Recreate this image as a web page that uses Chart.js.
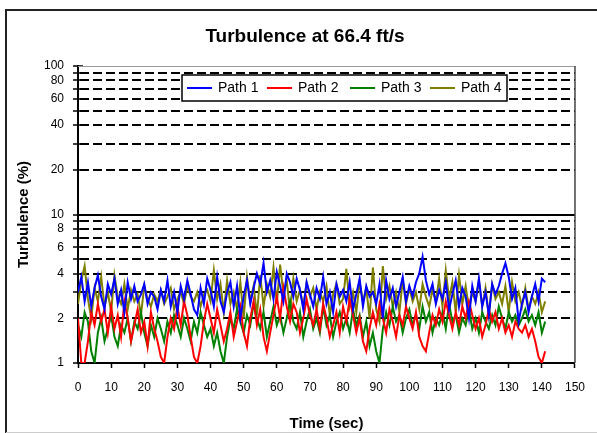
<!DOCTYPE html>
<html>
<head>
<meta charset="utf-8">
<script src="https://cdn.jsdelivr.net/npm/chart.js@4/dist/chart.umd.min.js"></script>
<style>
  body { margin: 0; background: #fff; }
  canvas { display: block; }
</style>
</head>
<body>
<canvas id="turb_chart" width="597" height="433"></canvas>
<script>
// time axis (sec)
const times = [
  0, 1, 2, 3, 4, 5, 6, 7, 8, 9, 10, 11, 12, 13, 14, 15, 16, 17, 18, 19,
  20, 21, 22, 23, 24, 25, 26, 27, 28, 29, 30, 31, 32, 33, 34, 35, 36, 37, 38, 39,
  40, 41, 42, 43, 44, 45, 46, 47, 48, 49, 50, 51, 52, 53, 54, 55, 56, 57, 58, 59,
  60, 61, 62, 63, 64, 65, 66, 67, 68, 69, 70, 71, 72, 73, 74, 75, 76, 77, 78, 79,
  80, 81, 82, 83, 84, 85, 86, 87, 88, 89, 90, 91, 92, 93, 94, 95, 96, 97, 98, 99,
  100, 101, 102, 103, 104, 105, 106, 107, 108, 109, 110, 111, 112, 113, 114, 115, 116, 117, 118, 119,
  120, 121, 122, 123, 124, 125, 126, 127, 128, 129, 130, 131, 132, 133, 134, 135, 136, 137, 138, 139,
  140, 141
];

// turbulence (%) per path
const path1 = [
  3.0, 3.8, 2.6, 3.5, 2.4, 3.2, 3.9, 2.8, 2.3, 3.4,
  2.9, 3.7, 2.5, 3.1, 2.2, 3.5, 2.7, 3.3, 2.6, 2.9,
  3.4, 2.5, 3.0, 2.8, 2.3, 3.1, 2.6, 3.6, 2.4, 3.0,
  2.2, 3.3, 2.7, 3.6, 2.9, 2.3, 2.1, 3.2, 2.5, 3.7,
  3.1, 2.4, 3.8, 2.6, 2.2, 3.0, 3.5, 2.4, 3.3, 2.0,
  2.8, 3.6, 2.5, 3.2, 4.0, 3.4, 4.7, 3.0, 3.6, 2.7,
  4.1, 3.3, 2.6, 4.0, 3.5, 2.8, 3.7, 3.1, 2.3, 3.5,
  2.9, 2.4, 3.2, 2.7, 3.8, 2.5, 3.0, 2.2, 3.4, 2.8,
  3.1, 2.6, 3.5, 2.3, 2.9, 3.7, 2.4, 3.3, 2.8, 3.0,
  2.5, 3.4, 2.0, 3.6, 2.7, 3.2, 2.4, 3.0, 3.8, 2.6,
  3.3, 2.8, 3.5, 4.0, 5.2, 3.6, 2.9, 3.4, 2.5, 3.1,
  2.7, 3.5, 2.3, 2.9, 3.6, 2.4, 3.2, 2.8, 2.0, 3.3,
  2.6, 3.7, 2.4, 3.0, 2.1, 3.4, 2.9, 3.3, 4.0, 4.7,
  3.8, 2.7, 3.2, 1.9, 2.5, 3.0, 2.2, 2.8, 3.4, 2.6,
  3.7, 3.5
];
const path2 = [
  2.0, 1.0, 1.0, 1.4, 2.2, 1.8, 2.5, 1.9, 2.3, 1.6,
  2.4, 1.7, 2.1, 1.5, 2.6, 2.0, 1.4, 1.8, 2.3, 1.6,
  1.9, 1.3, 2.2, 1.7, 1.4, 1.1, 1.0, 1.5, 2.0, 1.7,
  2.4, 1.8, 2.6, 2.1, 1.5, 1.1, 1.0, 1.3, 1.9, 2.5,
  2.0, 1.6, 2.3, 1.8, 1.4, 1.7, 2.2, 1.5, 1.9, 2.4,
  1.6, 1.3, 2.0, 2.6, 1.8, 2.3, 1.5, 1.2, 1.6, 2.1,
  2.8, 2.0, 3.2, 2.4, 1.9, 2.5, 2.2, 1.6, 2.0, 2.7,
  2.1, 1.8, 2.3, 1.7, 2.5, 2.0, 1.5, 1.8, 2.2, 1.6,
  2.4, 1.9, 2.7, 2.1, 1.6, 2.0, 1.4, 1.2, 1.7, 2.2,
  1.8, 2.5, 2.0, 1.6, 2.3, 1.9, 1.5, 2.1, 1.8, 2.4,
  2.0, 1.7, 2.2, 1.5, 1.3, 1.2, 1.6, 2.1, 1.8, 2.3,
  1.9, 2.6, 2.1, 1.7, 2.2, 1.8, 2.4, 2.0, 2.6, 2.1,
  1.7, 2.0, 1.5, 1.8, 2.3, 1.9, 2.2, 1.7, 2.0, 1.6,
  1.8, 1.5, 1.9, 1.7, 1.6, 1.8, 1.5, 1.7, 1.4, 1.1,
  1.0, 1.2
];
const path3 = [
  1.8, 1.5, 2.2, 1.9, 1.2, 1.0, 1.6, 2.0, 1.4, 1.7,
  2.1, 1.5, 1.3, 1.8, 1.6, 2.0, 1.4, 1.9, 1.7, 2.2,
  1.6, 1.3, 1.8, 1.5, 2.0, 1.7, 1.4, 1.9, 1.6, 2.1,
  1.8, 1.5, 2.0, 1.7, 1.4, 1.9, 1.6, 2.2, 1.8, 1.5,
  1.7, 1.3, 1.6, 1.2, 1.0, 1.5, 2.0, 1.7, 2.3, 1.9,
  1.6, 2.1, 1.8, 2.5, 2.0, 1.7, 2.2, 1.5, 1.9, 2.4,
  1.8, 2.1, 1.6, 2.0, 2.6, 1.9, 1.7, 2.2, 1.5, 1.9,
  2.3, 1.7, 2.0, 1.6, 2.4, 1.8, 2.1, 1.5, 1.9, 2.2,
  1.7, 2.0, 1.6, 2.3, 1.8, 2.1, 1.5, 1.9, 1.3, 1.6,
  1.2, 1.0, 1.7, 2.2, 1.8, 2.4, 1.9, 2.1, 1.6, 2.0,
  2.3, 1.8, 2.1, 1.7, 2.4, 1.9, 2.2, 1.6, 2.0, 1.8,
  2.2, 1.7, 2.5, 1.9, 2.1, 1.6, 2.0, 1.8, 2.3, 1.7,
  2.0, 1.6, 2.2, 1.9, 1.7, 2.1, 1.8, 2.4, 2.0, 1.7,
  2.2, 1.9, 2.1, 1.8, 2.0, 2.3, 1.9, 2.1, 1.8, 2.2,
  1.6, 1.9
];
const path4 = [
  2.5, 3.6, 4.5, 2.7, 2.0, 3.2, 2.6, 3.8, 2.4, 3.0,
  2.2, 3.9, 2.8, 2.5, 3.4, 2.3, 3.1, 2.6, 2.9, 2.1,
  3.3, 2.7, 2.4, 2.9, 2.6, 3.1, 2.5, 2.8, 3.2, 2.3,
  2.7, 3.0, 2.5, 3.3, 2.8, 2.6, 3.0, 2.4, 2.9, 3.1,
  2.6, 4.2, 2.7, 3.4, 2.2, 3.6, 2.5, 3.0, 2.3, 3.5,
  2.0, 3.8, 2.6, 3.3, 2.1, 3.9, 2.4, 3.4, 2.8, 4.4,
  2.5, 4.6, 2.9, 3.6, 2.2, 3.7, 2.6, 3.1, 2.4, 3.5,
  2.8, 3.2, 2.3, 3.0, 2.6, 3.3, 2.1, 2.9, 3.4, 2.5,
  2.7, 4.3, 2.4, 3.0, 2.2, 3.5, 2.6, 3.2, 2.0, 4.4,
  2.3, 1.9, 4.5, 2.7, 3.3, 2.4, 3.0, 2.2, 3.6, 2.5,
  3.2, 2.6, 3.0, 2.3, 3.4, 2.8, 2.4, 3.1, 2.6, 3.7,
  2.4, 4.2, 2.7, 3.5, 2.2, 3.9, 2.5, 3.3, 2.3, 3.0,
  2.6, 3.6, 2.4, 3.2, 2.1, 3.4, 2.7, 3.0, 2.5, 3.3,
  2.2, 3.5, 2.6, 3.0, 2.4, 3.2, 2.3, 2.8, 2.5, 3.0,
  2.2, 2.6
];

const seriesNames = ['Path 1', 'Path 2', 'Path 3', 'Path 4'];
const seriesColors = ['#0000ff', '#ff0000', '#008000', '#808000'];

const yTicks = [1, 2, 3, 4, 5, 6, 7, 8, 9, 10, 20, 30, 40, 50, 60, 70, 80, 90, 100];
const yLabeled = [1, 2, 4, 6, 8, 10, 20, 40, 60, 80, 100];
const yDashed = [2, 3, 4, 5, 6, 7, 8, 9, 20, 30, 40, 50, 60, 70, 80, 90];

const FONT = "'Liberation Sans', Arial, sans-serif";

function toPoints(vals) {
  return times.map((t, i) => ({ x: t, y: vals[i] }));
}

// gridlines, frame, title and legend box
const decor = {
  id: 'decor',
  beforeDatasetsDraw(chart) {
    const ctx = chart.ctx, a = chart.chartArea, y = chart.scales.y;
    ctx.save();
    ctx.strokeStyle = '#000';
    ctx.lineWidth = 2;
    ctx.setLineDash([9, 4]);
    yDashed.forEach(v => {
      const py = Math.round(y.getPixelForValue(v));
      ctx.beginPath(); ctx.moveTo(a.left + 2, py); ctx.lineTo(a.right, py); ctx.stroke();
    });
    ctx.setLineDash([]);
    let p10 = Math.round(y.getPixelForValue(10));
    ctx.beginPath(); ctx.moveTo(a.left, p10); ctx.lineTo(a.right, p10); ctx.stroke();
    // y tick marks crossing the axis
    ctx.lineWidth = 1.5;
    yTicks.forEach(v => {
      const py = Math.round(y.getPixelForValue(v));
      ctx.beginPath(); ctx.moveTo(a.left - 5, py); ctx.lineTo(a.left + 5, py); ctx.stroke();
    });
    // plot border top/right
    ctx.strokeStyle = '#999';
    ctx.lineWidth = 1;
    ctx.beginPath(); ctx.moveTo(a.left, a.top + 0.5); ctx.lineTo(a.right, a.top + 0.5); ctx.stroke();
    ctx.strokeStyle = '#444';
    ctx.lineWidth = 1.5;
    ctx.beginPath(); ctx.moveTo(a.right, a.top); ctx.lineTo(a.right, a.bottom); ctx.stroke();
    ctx.restore();
  },
  afterDraw(chart) {
    const ctx = chart.ctx;
    ctx.save();
    // outer frame
    ctx.strokeStyle = '#222';
    ctx.lineWidth = 2;
    ctx.beginPath(); ctx.moveTo(6, 433); ctx.lineTo(6, 10); ctx.lineTo(597, 10); ctx.stroke();
    ctx.strokeStyle = '#ccc';
    ctx.lineWidth = 1;
    ctx.beginPath(); ctx.moveTo(6, 432.5); ctx.lineTo(597, 432.5); ctx.stroke();
    // title
    ctx.fillStyle = '#000';
    ctx.font = 'bold 19px ' + FONT;
    ctx.textAlign = 'center';
    ctx.textBaseline = 'middle';
    ctx.fillText('Turbulence at 66.4 ft/s', 305, 37);
    // legend
    ctx.fillStyle = '#fff';
    ctx.fillRect(182, 75, 325, 26);
    ctx.strokeStyle = '#000';
    ctx.lineWidth = 1.5;
    ctx.strokeRect(182, 75, 325, 26);
    const xs = [187, 267, 350, 430];
    ctx.font = '14px ' + FONT;
    ctx.textAlign = 'left';
    seriesNames.forEach((name, i) => {
      ctx.strokeStyle = seriesColors[i];
      ctx.lineWidth = 2;
      ctx.beginPath(); ctx.moveTo(xs[i], 88); ctx.lineTo(xs[i] + 25, 88); ctx.stroke();
      ctx.fillStyle = '#000';
      ctx.fillText(name, xs[i] + 31, 88);
    });
    ctx.restore();
  }
};

const ctx = document.getElementById('turb_chart').getContext('2d');
new Chart(ctx, {
  type: 'line',
  data: {
    datasets: [path1, path2, path3, path4].map((vals, i) => ({
      label: seriesNames[i],
      data: toPoints(vals),
      borderColor: seriesColors[i],
      backgroundColor: seriesColors[i],
      borderWidth: 2,
      pointRadius: 0,
      tension: 0,
      fill: false
    }))
  },
  options: {
    responsive: false,
    animation: false,
    layout: { padding: { left: 0, right: 21, top: 66, bottom: 0 } },
    plugins: {
      legend: { display: false },
      title: { display: false },
      tooltip: { enabled: false }
    },
    scales: {
      x: {
        type: 'linear',
        min: 0,
        max: 150,
        afterFit(s) { s.height = 70; },
        ticks: { stepSize: 10, color: '#000', font: { family: FONT, size: 12 }, padding: 12, maxRotation: 0 },
        grid: { drawOnChartArea: false, drawTicks: true, tickLength: 5, tickColor: '#000', tickWidth: 1.5 },
        border: { color: '#000', width: 2 },
        title: { display: true, text: 'Time (sec)', color: '#000', font: { family: FONT, size: 15, weight: 'bold' }, padding: { top: 11, bottom: 0 } }
      },
      y: {
        type: 'logarithmic',
        min: 1,
        max: 100,
        afterFit(s) { s.width = 78; },
        afterBuildTicks(s) { s.ticks = yTicks.map(v => ({ value: v })); },
        ticks: {
          autoSkip: false,
          color: '#000',
          font: { family: FONT, size: 12 },
          padding: 6,
          callback: v => (yLabeled.includes(v) ? String(v) : '')
        },
        grid: { display: false },
        border: { color: '#000', width: 2 },
        title: { display: true, text: 'Turbulence (%)', color: '#000', font: { family: FONT, size: 15, weight: 'bold' }, padding: { top: 15, bottom: 0 } }
      }
    }
  },
  plugins: [decor]
});
</script>
</body>
</html>
